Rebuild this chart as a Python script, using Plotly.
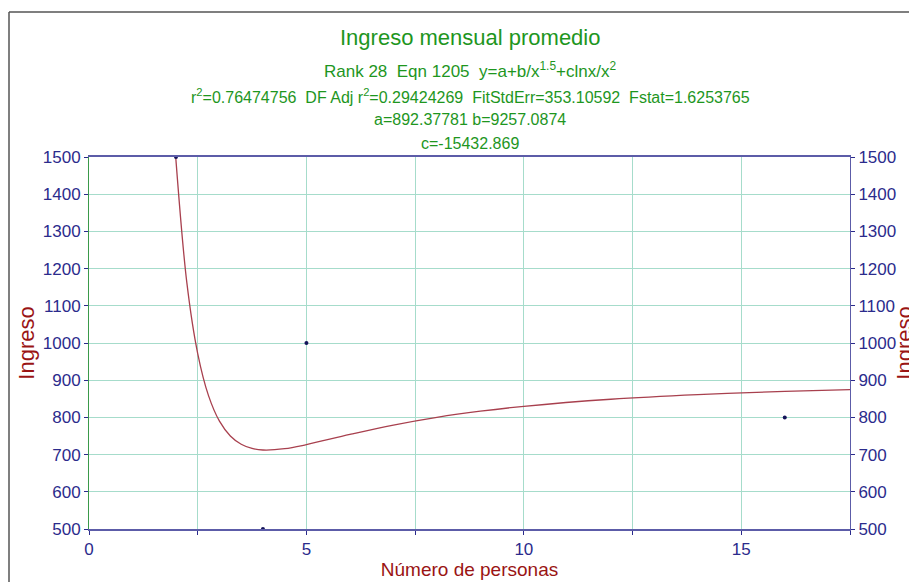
import plotly.graph_objects as go

# Data points
x_pts = [2, 4, 5, 16]
y_pts = [1500, 500, 1000, 800]

# Fitted curve values
curve_x = [1.99, 2.0, 2.25, 2.5, 2.75, 3.0, 3.25, 3.5, 3.75, 4.0, 4.5, 5.0, 6.0, 7.0, 8.0, 9.0, 10.0, 12.0, 14.0, 16.0, 17.5]
curve_y = [1508.3, 1491.0, 1162.1, 971.7, 857.9, 790.0, 750.2, 727.9, 716.6, 712.4, 715.8, 726.8, 754.1, 779.4, 800.1, 816.6, 829.8, 848.8, 861.3, 869.9, 874.6]

x_tickvals = [0, 2.5, 5, 7.5, 10, 12.5, 15, 17.5]
x_ticktext = ["0", "", "5", "", "10", "", "15", ""]
y_tickvals = [500, 600, 700, 800, 900, 1000, 1100, 1200, 1300, 1400, 1500]

title_lines = [
    "Ingreso mensual promedio",
    "Rank 28  Eqn 1205  y=a+b/x<sup>1.5</sup>+clnx/x<sup>2</sup>",
    "r<sup>2</sup>=0.76474756  DF Adj r<sup>2</sup>=0.29424269  FitStdErr=353.10592  Fstat=1.6253765",
    "a=892.37781 b=9257.0874",
    "c=-15432.869",
]

GREEN = "#1e961e"
NAVY = "#2b2b8c"
DARKRED = "#9a1414"
GRID = "#a6dccb"
FONT = "Liberation Sans, Arial"

# page body has an 8px offset, so the figure is sized/placed to compensate
OFF = 8
W, H = 917 - OFF, 582 - OFF
ML, MR, MT, MB = 89 - OFF, 67, 157 - OFF, 53
PH = H - MT - MB
PW = W - ML - MR

def py(ypix):
    return (H - MB - (ypix - OFF)) / PH

def px(xpix):
    return (xpix - OFF - ML) / PW

fig = go.Figure()
fig.add_trace(go.Scatter(x=curve_x, y=curve_y, mode="lines",
                         line=dict(color="#a8404e", width=1.3, shape="spline"),
                         showlegend=False, hoverinfo="skip"))
fig.add_trace(go.Scatter(x=x_pts, y=y_pts, mode="markers",
                         marker=dict(color="#14145a", size=4),
                         cliponaxis=False, showlegend=False))
fig.add_trace(go.Scatter(x=[None], y=[None], yaxis="y2", showlegend=False))

title_y = [37, 70, 96, 119, 143]
title_size = [22, 17, 16, 16, 16]
for t, yp, s in zip(title_lines, title_y, title_size):
    fig.add_annotation(text=t, xref="paper", yref="paper", x=px(470), y=py(yp),
                       xanchor="center", yanchor="middle", showarrow=False,
                       font=dict(family=FONT, size=s, color=GREEN))

# outer frame
fig.add_shape(type="line", xref="paper", yref="paper",
              x0=px(9), y0=py(12), x1=px(930), y1=py(12),
              line=dict(color="#555555", width=1.5))
fig.add_shape(type="line", xref="paper", yref="paper",
              x0=px(9), y0=py(12), x1=px(9), y1=py(600),
              line=dict(color="#555555", width=1.5))

fig.update_layout(
    width=W, height=H,
    margin=dict(l=ML, r=MR, t=MT, b=MB, autoexpand=False),
    paper_bgcolor="white", plot_bgcolor="white",
    font=dict(family=FONT, color=NAVY),
    xaxis=dict(range=[0, 17.5], tickvals=x_tickvals, ticktext=x_ticktext,
               showgrid=True, gridcolor=GRID, gridwidth=1,
               showline=True, linecolor="#5c5ca8", linewidth=2, mirror=True,
               ticks="outside", ticklen=4, tickcolor=NAVY,
               tickfont=dict(size=17, color=NAVY), automargin=False,
               title=dict(text="Número de personas", font=dict(size=19, color=DARKRED), standoff=0),
               zeroline=False),
    yaxis=dict(range=[500, 1500], tickvals=y_tickvals,
               showgrid=True, gridcolor=GRID, gridwidth=1,
               showline=True, linecolor="#3a9a4a", linewidth=1,
               ticks="outside", ticklen=4, tickcolor=NAVY,
               tickfont=dict(size=17, color=NAVY), automargin=False,
               title=dict(text="Ingreso", font=dict(size=22, color=DARKRED), standoff=2),
               zeroline=False),
    yaxis2=dict(range=[500, 1500], tickvals=y_tickvals, overlaying="y", side="right",
                showgrid=False, showline=True, linecolor="#5c5ca8", linewidth=1,
                ticks="outside", ticklen=4, tickcolor=NAVY,
                tickfont=dict(size=17, color=NAVY), automargin=False,
                title=dict(text="Ingreso", font=dict(size=22, color=DARKRED), standoff=8),
                zeroline=False),
)

fig.write_html("out.html")
